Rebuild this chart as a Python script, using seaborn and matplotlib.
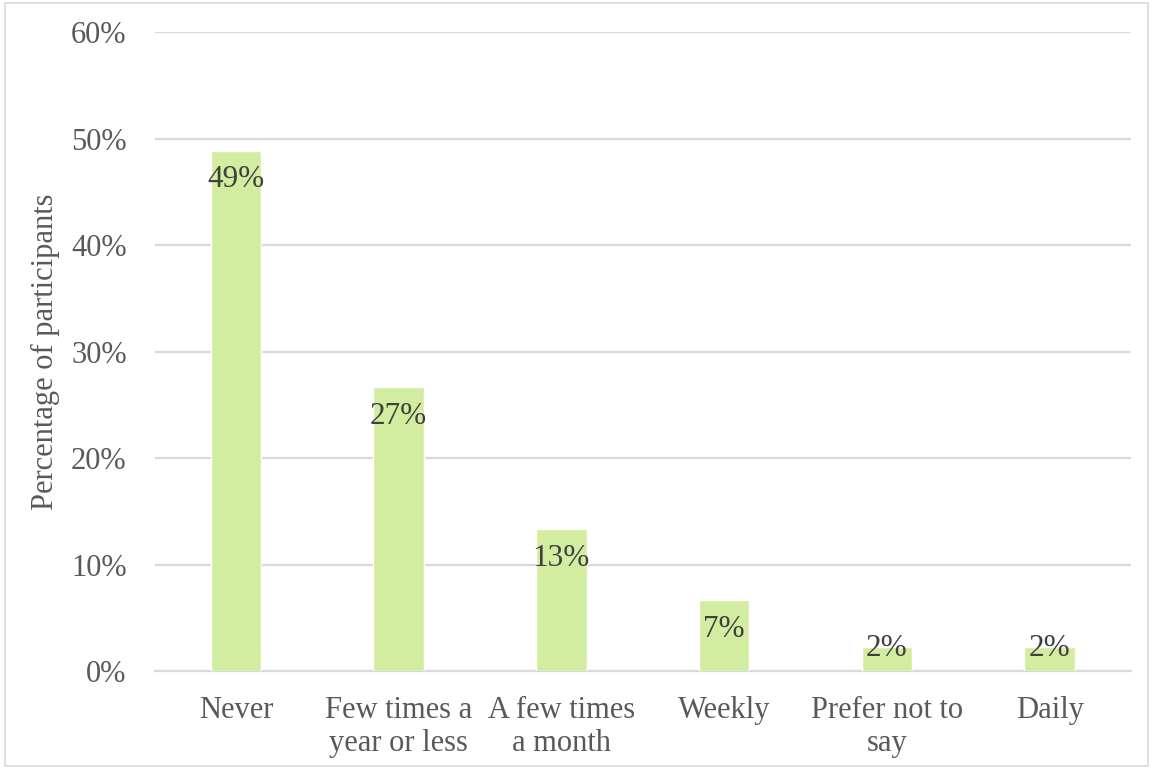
import matplotlib
matplotlib.use("Agg")
import matplotlib.pyplot as plt
import seaborn as sns
import pandas as pd
from matplotlib.patches import Rectangle

# Survey responses: how often participants do the activity
categories = ["Never", "Few times a\nyear or less", "A few times\na month",
              "Weekly", "Prefer not to\nsay", "Daily"]
counts = [22, 12, 6, 3, 1, 1]
total = 45
percent = [c / total * 100 for c in counts]

df = pd.DataFrame({"category": categories, "percent": percent})

sns.set_theme(style="white")
plt.rcParams["font.family"] = ["Liberation Serif", "DejaVu Serif"]

fig = plt.figure(figsize=(11.53, 7.69), dpi=100)
ax = fig.add_axes([0.134, 0.1274, 0.847, 0.8306])

sns.barplot(data=df, x="category", y="percent", color="#d2eca0",
            saturation=1, width=0.31, ax=ax, zorder=3)

ax.set_ylim(0, 60)
ax.set_yticks(range(0, 61, 10))
ax.set_yticklabels([f"{t}%" for t in range(0, 61, 10)])
ax.yaxis.grid(True, color="#d9d9d9", linewidth=1.6, zorder=0)
ax.set_axisbelow(True)
for side in ["left", "right", "top"]:
    ax.spines[side].set_visible(False)
ax.spines["bottom"].set_color("#d9d9d9")
ax.spines["bottom"].set_linewidth(1.6)

ax.tick_params(axis="both", length=0, labelsize=22, colors="#595959")
ax.tick_params(axis="x", pad=18)
ax.tick_params(axis="y", pad=20)
ax.set_xlabel("")
ax.set_ylabel("Percentage of participants", fontsize=22, color="#595959",
              labelpad=8)
ax.set_xlim(-0.5, len(categories) - 0.5)

# Value labels just inside the top of each bar
for i, v in enumerate(percent):
    y = max(v - 2.75, 2.1)
    ax.text(i, y, f"{v:.0f}%", ha="center", va="center",
            fontsize=22.5, color="#404040", zorder=4)

# Thin frame around the whole chart
fig.patches.append(Rectangle((0.004, 0.004), 0.992, 0.992, transform=fig.transFigure,
                             fill=False, edgecolor="#d9d9d9", linewidth=1.2))

fig.savefig("out.png", dpi=100)
